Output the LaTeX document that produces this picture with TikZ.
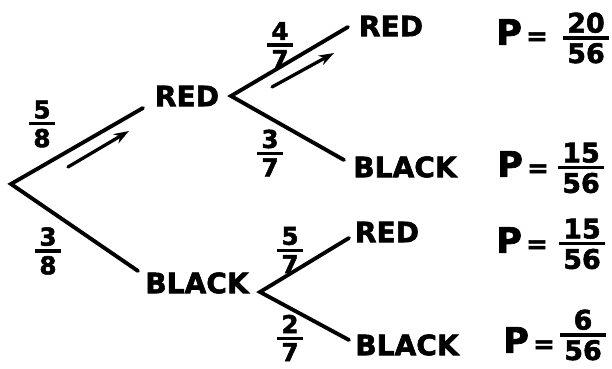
\documentclass[tikz,border=0pt]{standalone}
\usepackage{fontspec}
\setmainfont{DejaVu Sans}[BoldFeatures={FakeBold=2}]
\usetikzlibrary{arrows.meta}
% stacked fraction with a heavy bar
\newcommand\fracstack[2]{\vbox{\offinterlineskip\halign{\hfil\,##\,\hfil\cr #1\cr\noalign{\kern3pt\hrule height2.6pt\kern3pt}#2\cr}}}
\begin{document}
\begin{tikzpicture}[x=0.3mm,y=-0.3mm,
  branch/.style={line width=3.3pt,line cap=round},
  flow/.style={line width=2.8pt,line cap=round,-{Stealth[length=13pt,width=9pt]}},
  word/.style={font=\fontsize{24}{28}\selectfont\bfseries,inner sep=0},
  wt/.style={font=\fontsize{21}{22}\selectfont\bfseries,inner sep=0},
  prob/.style={font=\fontsize{30}{32}\selectfont\bfseries,inner sep=0},
  pfrac/.style={font=\fontsize{23}{24}\selectfont\bfseries,inner sep=0}]
\useasboundingbox (0,0) rectangle (612,369);

% tree nodes
\coordinate (root) at (11,184);
\node[word] (r1) at (187,96) {RED};
\node[word] (b1) at (197,283) {BLACK};
\node[word] (rr) at (391,26) {RED};
\node[word] (rb) at (405,167) {BLACK};
\node[word] (br) at (387,232) {RED};
\node[word] (bb) at (407,345) {BLACK};

% branch end points
\coordinate (r1in) at (143,108);
\coordinate (b1in) at (138,271);
\coordinate (r1out) at (231,96);
\coordinate (b1out) at (260,292);
\coordinate (rrin) at (348,27);
\coordinate (rbin) at (344,160);
\coordinate (brin) at (349,238);
\coordinate (bbin) at (349,340);

% branches
\draw[branch] (r1in) -- (root) -- (b1in);
\draw[branch] (rrin) -- (r1out) -- (rbin);
\draw[branch] (brin) -- (b1out) -- (bbin);

% direction arrows along the red-red path
\coordinate (f1s) at (68,167);
\coordinate (f1e) at (129,131);
\coordinate (f2s) at (272,87);
\coordinate (f2e) at (334,53);
\draw[flow] (f1s) -- (f1e);
\draw[flow] (f2s) -- (f2e);

% branch weights
\node[wt] (w58) at (42,124) {\fracstack{5}{8}};
\node[wt] (w38) at (48,251) {\fracstack{3}{8}};
\node[wt] (w47) at (280,45) {\fracstack{4}{7}};
\node[wt] (w37) at (270,153) {\fracstack{3}{7}};
\node[wt] (w57) at (290,250) {\fracstack{5}{7}};
\node[wt] (w27) at (290,338) {\fracstack{2}{7}};

% outcome probabilities
\node[prob] (p1) at (522,32) {P{\fontsize{22}{24}\selectfont\,=}};
\node[prob] (p2) at (523,164) {P{\fontsize{22}{24}\selectfont\,=}};
\node[prob] (p3) at (522,240) {P{\fontsize{22}{24}\selectfont\,=}};
\node[prob] (p4) at (529,340) {P{\fontsize{22}{24}\selectfont\,=}};
\node[pfrac] (q1) at (586,38) {\fracstack{20}{56}};
\node[pfrac] (q2) at (581,168) {\fracstack{15}{56}};
\node[pfrac] (q3) at (582,244) {\fracstack{15}{56}};
\node[pfrac] (q4) at (583,335) {\fracstack{6}{56}};
\end{tikzpicture}
\end{document}
